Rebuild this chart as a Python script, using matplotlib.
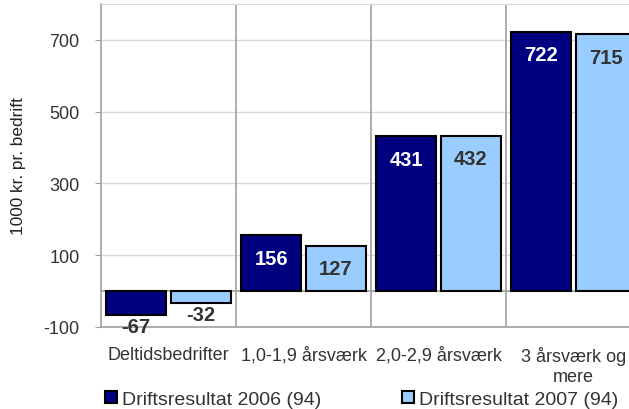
import numpy as np
import matplotlib.pyplot as plt

plt.rcParams['font.family'] = ['Liberation Sans', 'DejaVu Sans']

# data
categories = ['Deltidsbedrifter', '1,0-1,9 årsværk', '2,0-2,9 årsværk', '3 årsværk og\nmere']
res_2006 = [-67, 156, 431, 722]
res_2007 = [-32, 127, 432, 715]
series_names = ['Driftsresultat 2006 (94)', 'Driftsresultat 2007 (94)']
yticks = [-100, 100, 300, 500, 700]

txt = '#333333'

fig = plt.figure(figsize=(6.29, 4.10), dpi=100)
ax = fig.add_axes([0.1606, 0.2, 0.8585, 0.788])

x = np.arange(len(categories))
w = 0.44
off = 0.24
b1 = ax.bar(x - off, res_2006, w, color='#000080', edgecolor='black', linewidth=1.5, zorder=3)
b2 = ax.bar(x + off, res_2007, w, color='#99CCFF', edgecolor='black', linewidth=1.5, zorder=3)

# verdier i søjlerne
for bars, vals, col in [(b1, res_2006, 'white'), (b2, res_2007, txt)]:
    for r, v in zip(bars, vals):
        cx = r.get_x() + r.get_width() / 2
        if v >= 0:
            ax.text(cx, v - 64, str(v), ha='center', va='center', color=col,
                    fontsize=14.5, fontweight='bold', zorder=4)
        else:
            ax.text(cx, v - 33, str(v), ha='center', va='center', color=txt,
                    fontsize=14.5, fontweight='bold', zorder=4)

ax.set_xlim(-0.5, len(categories) - 0.5)
ax.set_ylim(-100, 800)
ax.set_yticks(yticks)
ax.set_yticklabels([str(t) for t in yticks], fontsize=13, color=txt)
ax.set_ylabel('1000 kr. pr. bedrift', fontsize=12.4, labelpad=12.5, color='#222222')

# gitter
for t in yticks[1:]:
    ax.axhline(t, color='#d9d9d9', linewidth=1, zorder=1)
ax.axhline(0, color='#a0a0a0', linewidth=1.2, zorder=2)
for k in range(1, len(categories)):
    ax.axvline(k - 0.5, color='#a0a0a0', linewidth=1.2, zorder=2)

ax.set_xticks(x)
ax.set_xticklabels(categories, fontsize=13, color=txt)
ax.tick_params(axis='x', length=0, pad=14)
ax.tick_params(axis='y', length=4.5, color='#a0a0a0', pad=11)
for s in ['left', 'bottom']:
    ax.spines[s].set_color('#a0a0a0')
    ax.spines[s].set_linewidth(1.2)
ax.spines['top'].set_color('#d9d9d9')
ax.spines['right'].set_visible(False)

leg = fig.legend([b1, b2], series_names, loc='center left', bbox_to_anchor=(0.167, 0.024),
                 ncol=2, frameon=False, fontsize=14, handlelength=0.6, handleheight=0.6,
                 handletextpad=0.25, columnspacing=4.2, borderpad=0, borderaxespad=0)
for t in leg.get_texts():
    t.set_color(txt)

fig.savefig('out.png', dpi=100)
